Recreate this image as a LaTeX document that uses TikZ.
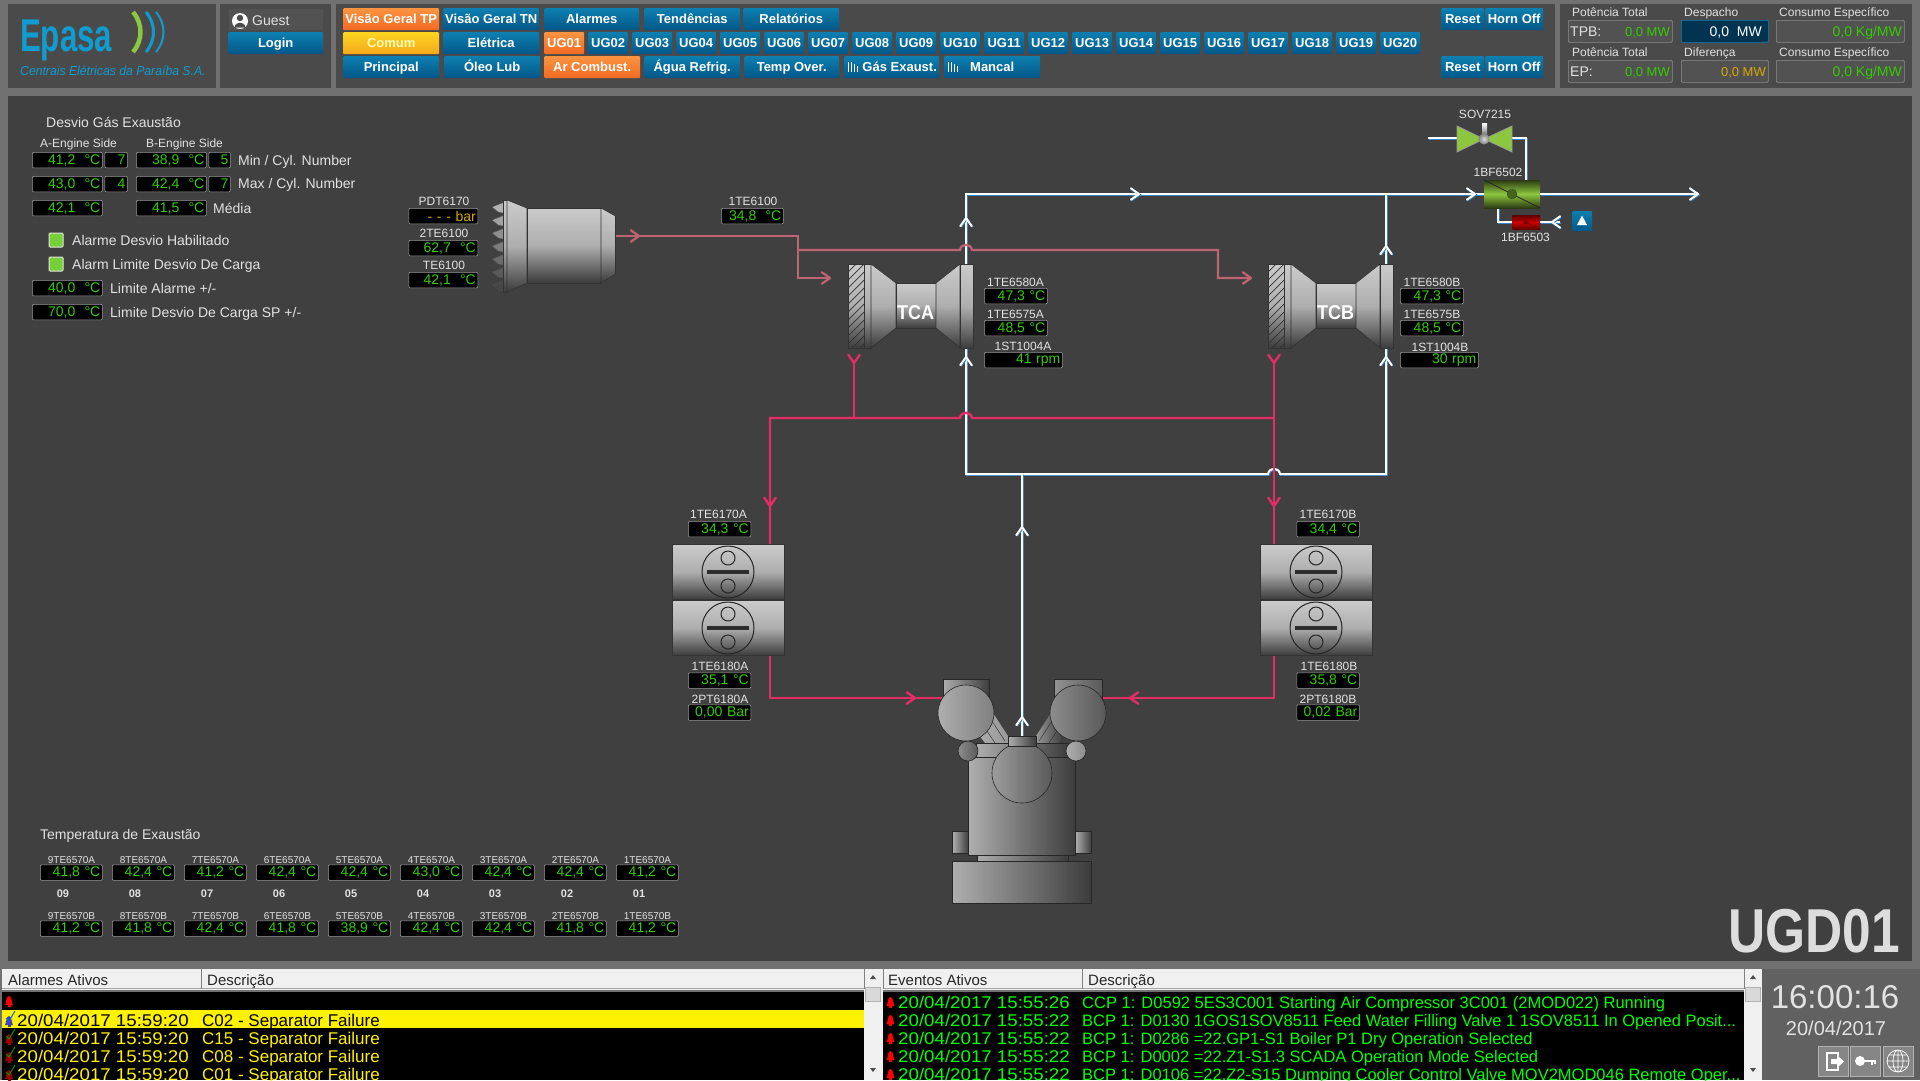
\documentclass[tikz,border=0pt]{standalone}
\usepackage{fontspec}
\setmainfont{Liberation Sans}
\usetikzlibrary{positioning}

\definecolor{outerbg}{HTML}{717171}
\definecolor{panelbg}{HTML}{4A4A4A}
\definecolor{boxbg}{HTML}{525252}
\definecolor{mainbg}{HTML}{404040}
\definecolor{btntop}{HTML}{0D7FB0}
\definecolor{btnbot}{HTML}{035788}
\definecolor{ortop}{HTML}{FA9440}
\definecolor{orbot}{HTML}{F26A24}
\definecolor{yetop}{HTML}{FBD520}
\definecolor{yebot}{HTML}{F5A81C}
\definecolor{lblgray}{HTML}{E2E2E2}
\definecolor{valgreen}{HTML}{33CC00}
\definecolor{valamber}{HTML}{D8A800}
\definecolor{logoblue}{HTML}{109CCF}
\definecolor{leafgreen}{HTML}{8DC63F}
\definecolor{airblue}{HTML}{3A7FC0}
\definecolor{gasred}{HTML}{BE6472}
\definecolor{waterred}{HTML}{E22D66}
\definecolor{machlight}{HTML}{CBCBCB}
\definecolor{machmid}{HTML}{AEAEAE}
\definecolor{machdark}{HTML}{3C3C3C}

\newcommand{\pxfont}[1]{\fontsize{#1}{#1}\selectfont}

\tikzset{
  btn/.style={rectangle,rounded corners=1pt,top color=btntop,bottom color=btnbot,
    text=white,font=\pxfont{13}\bfseries,inner sep=0pt,minimum height=22pt,anchor=north west,
    text height=9.5pt,text depth=0pt},
  btnor/.style={btn,top color=ortop,bottom color=orbot},
  btnye/.style={btn,top color=yetop,bottom color=yebot,text=yellow!30!white},
  readout/.style={rectangle,fill=black,draw=gray!80,line width=.7pt,rounded corners=1pt,
    minimum height=15.5pt,inner ysep=0pt,inner xsep=2pt,align=right,anchor=north west,font=\pxfont{14}},
  lbl/.style={inner sep=0pt,text=lblgray,font=\pxfont{12},text height=9pt,text depth=0pt},
  txt/.style={inner sep=0pt,text=lblgray,font=\pxfont{14},anchor=west,text height=10pt,text depth=0pt},
  infobox/.style={rectangle,fill=boxbg,draw=gray!90,line width=.7pt,rounded corners=1pt,
    inner sep=0pt,minimum height=22pt,anchor=north west},
  lamp/.style={rectangle,fill=leafgreen!85!green,draw=gray!20,line width=1pt,rounded corners=1pt,minimum size=14pt,inner sep=0pt},
  airpipe/.style={draw=white,line width=2pt,preaction={draw=airblue,line width=2pt,transform canvas={shift={(.8pt,-.8pt)}}}},
  gaspipe/.style={draw=gasred,line width=2.2pt},
  waterpipe/.style={draw=waterred,line width=2.4pt},
  tipline/.style={line cap=round,line join=round},
  mach/.style={top color=machlight,bottom color=machdark,middle color=machmid,draw=black!80,line width=.6pt},
  engine/.style={left color=machmid,right color=machdark,draw=black!85,line width=.6pt},
  rowtext/.style={inner sep=0pt,anchor=west,font=\pxfont{17},text height=12pt,text depth=0pt},
  stamp/.style={rowtext,xscale=1.1},
  headtext/.style={inner sep=0pt,anchor=west,text=black!85,font=\pxfont{15},text height=11pt,text depth=0pt},
  iconbtn/.style={rectangle,fill=gray!95,draw=gray!60,inner sep=0pt,minimum width=30pt,minimum height=30pt,anchor=north west},
}

% value box: [colour]{name}{x}{y}{width}{text}
\newcommand{\readout}[6][valgreen]{%
  \pgfmathsetmacro{\rdw}{#5-5}%
  \node[readout,text=#1,text width=\rdw pt] (#2) at (#3,#4) {#6};}
% flow chevron: {point}{angle}{style}
\newcommand{\flowtip}[3]{\draw[#3,tipline] (#1) ++(#2+145:10) -- (#1) -- ++(#2-145:10);}
\newcommand{\turbine}[2]{%
  \begin{scope}[shift={(#1,0)}]
    \shade[mach] (848,264) rectangle (864,348);
    \begin{scope}
      \clip (848,264) rectangle (864,348);
      \foreach \h in {264,272,...,368}
        \draw[black!80,line width=.7pt] (848,\h) -- (868,\h-20);
    \end{scope}
    \draw[black!80,line width=.6pt] (848,264) rectangle (864,348);
    \shade[mach] (864,264) rectangle (871,348);
    \shade[mach] (871,264) -- (896,283) -- (896,328) -- (871,348) -- cycle;
    \shade[mach] (896,283) rectangle (936,328);
    \shade[mach] (936,283) -- (960,264) -- (960,348) -- (936,328) -- cycle;
    \shade[mach] (960,264) rectangle (973,348);
    \node[inner sep=0pt,text=white,font=\pxfont{20}\bfseries,xscale=.9] (#2) at (915.5,312.5) {#2};
  \end{scope}}
\newcommand{\cooler}[2]{%
  \begin{scope}[shift={(#1,#2)}]
    \shade[mach] (-56,-27.5) rectangle (56,27.5);
    \draw[black!70!gray,line width=1pt] (0,0) circle (26);
    \draw[black!70!gray,line width=1pt] (0,-14) circle (7) (0,14) circle (7);
    \fill[black!65!gray] (-21,-2) rectangle (21,2);
  \end{scope}}
\newcommand{\bell}[3]{%
  \begin{scope}[shift={(#1,#2)}]
    \fill[#3] (-4,4) .. controls (-2.5,2) and (-3,-5) .. (0,-5) .. controls (3,-5) and (2.5,2) .. (4,4) -- cycle;
    \fill[#3] (-1.5,4) rectangle (1.5,6);
  \end{scope}}

\begin{document}
\begin{tikzpicture}[x=1pt,y=-1pt]
  \useasboundingbox (0,0) rectangle (1920,1080);
  \fill[outerbg] (0,0) rectangle (1920,1080);
  \fill[panelbg] (8,4) rectangle (216,88);
  \fill[panelbg] (220,4) rectangle (331,88);
  \fill[panelbg] (336,4) rectangle (1555,88);
  \fill[panelbg] (1560,4) rectangle (1912,88);
  \fill[mainbg] (8,96) rectangle (1912,961);

  % logo
  \node[inner sep=0pt,anchor=west,text=logoblue,font=\pxfont{46}\bfseries,xscale=.68] (logotext) at (20,40) {Epasa};
  \node[inner sep=0pt,anchor=west,text=logoblue,font=\pxfont{13}\itshape,xscale=.94] (logosub) at (20,71) {Centrais Elétricas da Paraíba S.A.};
  \draw[leafgreen,line width=4.5pt] (133,12) .. controls (143,24) and (143,40) .. (133,52);
  \draw[logoblue,line width=3pt] (146,12) .. controls (156,24) and (156,40) .. (146,52);
  \draw[logoblue,line width=2pt] (156,12) .. controls (166,24) and (166,40) .. (156,52);

  % login
  \node[infobox,minimum width=95pt,draw=panelbg] (guestbox) at (228,8) {};
  \fill[white] (240,21) circle (8);
  \fill[black!70] (240,18) circle (3.2) (234.5,27.5) .. controls (235,21) and (245,21) .. (245.5,27.5) -- cycle;
  \node[txt] (guest) at (252,20.5) {Guest};
  \node[btn,minimum width=95pt] (login) at (228,32) {Login};

  % buttons
  \node[btnor,minimum width=96pt] (geraltp) at (343,8) {Visão Geral TP};
  \node[btn,minimum width=96pt] (geraltn) at (443,8) {Visão Geral TN};
  \node[btn,minimum width=95pt] (alarmes) at (544,8) {Alarmes};
  \node[btn,minimum width=96pt] (tendencias) at (644,8) {Tendências};
  \node[btn,minimum width=96pt] (relatorios) at (743,8) {Relatórios};
  \node[btnye,minimum width=96pt] (comum) at (343,32) {Comum};
  \node[btn,minimum width=96pt] (eletrica) at (443,32) {Elétrica};
  \node[btnor,minimum width=40pt] (ug01) at (544,32) {UG01};
  \foreach \n [count=\c] in {02,03,04,05,06,07,08,09,10,11,12,13,14,15,16,17,18,19,20} {
    \pgfmathsetmacro{\ugx}{544+44*\c}
    \node[btn,minimum width=40pt] (ug\n) at (\ugx,32) {UG\n};
  }
  \node[btn,minimum width=96pt] (principal) at (343,56) {Principal};
  \node[btn,minimum width=96pt] (oleo) at (444,56) {Óleo Lub};
  \node[btnor,minimum width=96pt] (arcomb) at (544,56) {Ar Combust.};
  \node[btn,minimum width=96pt] (agua) at (644,56) {Água Refrig.};
  \node[btn,minimum width=95pt] (tempover) at (744,56) {Temp Over.};
  \node[btn,minimum width=95pt] (gasexaust) at (844,56) {\hspace*{16pt}Gás Exaust.};
  \node[btn,minimum width=96pt] (mancal) at (944,56) {Mancal};
  \foreach \bx in {0,100} {
    \draw[white,line width=1pt] (848+\bx,62) -- (848+\bx,72) (851+\bx,62) -- (851+\bx,72)
      (854+\bx,64) -- (854+\bx,72) (857.5+\bx,66) -- (857.5+\bx,72);
  }
  \foreach \ry in {8,56} {
    \node[btn,minimum width=43pt] (reset\ry) at (1441,\ry) {Reset};
    \node[btn,minimum width=58pt] (horn\ry) at (1485,\ry) {Horn Off};
  }

  % totals
  \node[lbl,anchor=west] (pot1) at (1572,12) {Potência Total};
  \node[lbl,anchor=west] (desp) at (1684,12) {Despacho};
  \node[lbl,anchor=west] (cons1) at (1779,12) {Consumo Específico};
  \node[infobox,minimum width=104pt] (tpbbox) at (1568,20) {};
  \node[infobox,minimum width=87pt,fill=btnbot!60!black,draw=btntop] (despbox) at (1681,20) {};
  \node[infobox,minimum width=128pt] (cons1box) at (1776,20) {};
  \node[txt] (tpb) at (1570,31) {TPB:};
  \node[txt,anchor=east,text=valgreen,font=\pxfont{13}] (tpbval) at (1670,31) {0,0 MW};
  \node[txt,anchor=east,text=white] (despval) at (1762,31) {0,0\ \ MW};
  \node[txt,anchor=east,text=valgreen] (cons1val) at (1902,31) {0,0 Kg/MW};
  \node[lbl,anchor=west] (pot2) at (1572,52) {Potência Total};
  \node[lbl,anchor=west] (dif) at (1684,52) {Diferença};
  \node[lbl,anchor=west] (cons2) at (1779,52) {Consumo Específico};
  \node[infobox,minimum width=104pt] (epbox) at (1568,60) {};
  \node[infobox,minimum width=87pt] (difbox) at (1681,60) {};
  \node[infobox,minimum width=128pt] (cons2box) at (1776,60) {};
  \node[txt] (ep) at (1570,71) {EP:};
  \node[txt,anchor=east,text=valgreen,font=\pxfont{13}] (epval) at (1670,71) {0,0 MW};
  \node[txt,anchor=east,text=valamber,font=\pxfont{13}] (difval) at (1766,71) {0,0 MW};
  \node[txt,anchor=east,text=valgreen] (cons2val) at (1902,71) {0,0 Kg/MW};

  % deviation block
  \node[txt] (desvio) at (46,122) {Desvio Gás Exaustão};
  \node[lbl,anchor=west] (aside) at (40,143) {A-Engine Side};
  \node[lbl,anchor=west] (bside) at (146,143) {B-Engine Side};
  \readout{amin}{32}{152}{71}{41,2\ \ °C}
  \readout{amincyl}{104.5}{152}{23.5}{7\ }
  \readout{bmin}{136}{152}{71}{38,9\ \ °C}
  \readout{bmincyl}{208.5}{152}{22.5}{5\ }
  \node[txt] (mincyl) at (238,160) {Min / Cyl. Number};
  \readout{amax}{32}{176}{71}{43,0\ \ °C}
  \readout{amaxcyl}{104.5}{176}{23.5}{4\ }
  \readout{bmax}{136}{176}{71}{42,4\ \ °C}
  \readout{bmaxcyl}{208.5}{176}{22.5}{7\ }
  \node[txt] (maxcyl) at (238,183) {Max / Cyl. Number};
  \readout{amed}{32}{200}{71}{42,1\ \ °C}
  \readout{bmed}{136}{200}{71}{41,5\ \ °C}
  \node[txt] (media) at (213,208) {Média};
  \node[lamp] (lampa) at (56,240) {};
  \node[txt] (lampatxt) at (72,240) {Alarme Desvio Habilitado};
  \node[lamp] (lampb) at (56,264) {};
  \node[txt] (lampbtxt) at (72,264) {Alarm Limite Desvio De Carga};
  \readout{limal}{32}{280}{71}{40,0\ \ °C}
  \node[txt] (limaltxt) at (110,288) {Limite Alarme +/-};
  \readout{limsp}{32}{304}{71}{70,0\ \ °C}
  \node[txt] (limsptxt) at (110,312) {Limite Desvio De Carga SP +/-};

  % silencer instruments
  \node[lbl] (pdt) at (444,201) {PDT6170};
  \readout[valamber]{pdtval}{408.5}{208}{70}{- - -\ bar}
  \node[lbl] (te2) at (444,233) {2TE6100};
  \readout{te2val}{408.5}{240}{70}{62,7\ \ °C}
  \node[lbl] (te1) at (444,265) {TE6100};
  \readout{te1val}{408.5}{272}{70}{42,1\ \ °C}
  \node[lbl] (te6100) at (753,201) {1TE6100};
  \readout{te6100val}{721}{208}{63}{34,8\ \ °C}

  % pipes
  \coordinate (silout) at (615,236);
  \coordinate (gasa) at (830,278);
  \coordinate (gasb) at (1251,278);
  \coordinate (airtop) at (966,194);
  \coordinate (airbot) at (966,474);
  \coordinate (airtopb) at (1386,194);
  \coordinate (airbotb) at (1386,474);
  \coordinate (airmid) at (1022,474);
  \coordinate (enginein) at (1022,736);
  \coordinate (filterin) at (1484,194);
  \coordinate (filterout) at (1540,194);
  \coordinate (airend) at (1698,194);
  \coordinate (watera) at (854,363);
  \coordinate (waterb) at (1274,363);
  \coordinate (waterl) at (770,418);
  \coordinate (waterr) at (1274,418);
  \coordinate (coolain) at (770,545);
  \coordinate (coolbin) at (1274,545);
  \coordinate (coolaout) at (770,656);
  \coordinate (coolbout) at (1274,656);
  \coordinate (enga) at (943,698);
  \coordinate (engb) at (1102,698);

  \draw[airpipe] (filterin) -- (airtop) -- (966,264);
  \draw[airpipe] (966,348) -- (airbot) -- (1268,474) .. controls +(1,-7) and +(-1,-7) .. (1280,474) -- (airbotb) -- (1386,348);
  \draw[airpipe] (1386,264) -- (airtopb);
  \draw[airpipe] (airmid) -- (enginein);
  \draw[airpipe] (filterout) -- (airend);
  \flowtip{966,218}{270}{airpipe}
  \flowtip{966,357}{270}{airpipe}
  \flowtip{1386,246}{270}{airpipe}
  \flowtip{1386,357}{270}{airpipe}
  \flowtip{1139,194}{0}{airpipe}
  \flowtip{1475,194}{0}{airpipe}
  \flowtip{1698,194}{0}{airpipe}
  \flowtip{1022,527}{270}{airpipe}
  \flowtip{1022,717}{270}{airpipe}

  \draw[gaspipe] (silout) -- (798,236) -- (798,278) -- (gasa);
  \draw[gaspipe] (798,250) -- (960,250) .. controls +(1,-7) and +(-1,-7) .. (972,250) -- (1218,250) -- (1218,278) -- (gasb);
  \flowtip{639,236}{0}{gaspipe}
  \flowtip{gasa}{0}{gaspipe}
  \flowtip{gasb}{0}{gaspipe}

  \draw[waterpipe] (coolain) -- (waterl) -- (960,418) .. controls +(1,-7) and +(-1,-7) .. (972,418) -- (waterr);
  \draw[waterpipe] (watera) -- (854,418);
  \draw[waterpipe] (waterb) -- (coolbin);
  \draw[waterpipe] (coolaout) -- (770,698) -- (enga);
  \draw[waterpipe] (coolbout) -- (1274,698) -- (engb);
  \flowtip{watera}{90}{waterpipe}
  \flowtip{waterb}{90}{waterpipe}
  \flowtip{770,506}{90}{waterpipe}
  \flowtip{1274,506}{90}{waterpipe}
  \flowtip{915,698}{0}{waterpipe}
  \flowtip{1130,698}{180}{waterpipe}

  % silencer
  \foreach \t in {0,...,6}
    \fill[black!\the\numexpr 30+7*\t\relax,draw=black!70,line width=.4pt] (507,201+13*\t) -- (492,207+13*\t) -- (498,212+13*\t) -- (507,214+13*\t) -- cycle;
  \shade[mach] (503,200) rectangle (507,292);
  \shade[mach] (507,200) -- (527,208) -- (527,283) -- (507,292) -- cycle;
  \shade[mach] (527,208) rectangle (601,283);
  \shade[mach] (601,208) -- (615.5,216) -- (615.5,274) -- (601,283) -- cycle;

  % turbochargers
  \turbine{0}{TCA}
  \turbine{420}{TCB}
  \node[lbl] (tavala) at (1015.5,281.5) {1TE6580A};
  \readout{tavalaval}{984}{288}{64}{47,3 °C}
  \node[lbl] (tbvala) at (1015.5,313.5) {1TE6575A};
  \readout{tbvalaval}{984}{320}{64}{48,5 °C}
  \node[lbl] (stvala) at (1023,345.5) {1ST1004A};
  \readout{stvalaval}{984}{352}{79}{41 rpm}
  \node[lbl] (tavalb) at (1432,281.5) {1TE6580B};
  \readout{tavalbval}{1400}{288}{64}{47,3 °C}
  \node[lbl] (tbvalb) at (1432,313.5) {1TE6575B};
  \readout{tbvalbval}{1400}{320}{64}{48,5 °C}
  \node[lbl] (stvalb) at (1440,346.5) {1ST1004B};
  \readout{stvalbval}{1400}{352}{79}{30 rpm}

  % coolers
  \foreach \cx in {728,1316} {
    \cooler{\cx}{572}
    \cooler{\cx}{628}
  }
  \node[lbl] (coolaintxt) at (718.5,513.5) {1TE6170A};
  \readout{coolainval}{688}{521}{63.5}{34,3 °C}
  \node[lbl] (coolbintxt) at (1328,513.5) {1TE6170B};
  \readout{coolbinval}{1296.5}{521}{63.5}{34,4 °C}
  \node[lbl] (coolaouttxt) at (720,665.5) {1TE6180A};
  \readout{coolaoutval}{688}{672.5}{63.5}{35,1 °C}
  \node[lbl] (prsatxt) at (720,698.5) {2PT6180A};
  \readout{prsaval}{688}{704.5}{63.5}{0,00 Bar}
  \node[lbl] (coolbouttxt) at (1329,665.5) {1TE6180B};
  \readout{coolboutval}{1296.5}{672.5}{63.5}{35,8 °C}
  \node[lbl] (prsbtxt) at (1328,698.5) {2PT6180B};
  \readout{prsbval}{1296.5}{704.5}{63.5}{0,02 Bar}

  % engine
  \shade[engine] (943,679) rectangle (989.5,705);
  \shade[left color=gray!85,right color=black!65] (1054.5,679) rectangle (1102,705);
  \draw[black!85,line width=.6pt] (1054.5,679) rectangle (1102,705);
  \shade[left color=machmid,right color=gray!80] (993,713) -- (1008,736) -- (1008,743) -- (985,743) -- (975,730) -- cycle;
  \shade[left color=gray!80,right color=black!85] (1051,713) -- (1036,736) -- (1036,743) -- (1059,743) -- (1069,730) -- cycle;
  \draw[black!80,line width=.5pt] (990,718) -- (1005,741) (983,725) -- (995,743) (1054,718) -- (1039,741) (1061,725) -- (1049,743);
  \shade[engine] (952.5,831) rectangle (968.5,853);
  \shade[engine] (1075.5,831) rectangle (1091.5,853);
  \shade[engine] (952.5,861) rectangle (1091.5,903);
  \shade[engine] (977,855) rectangle (1068,861);
  \shade[engine] (968.5,757) rectangle (1075.5,855);
  \shade[engine] (976,743) rectangle (1068,757);
  \shade[left color=gray!90,right color=black!65,draw=black!85,line width=.6pt] (968,751) circle (10);
  \shade[left color=machmid,right color=black!45,draw=black!85,line width=.6pt] (1076,751) circle (10);
  \shade[left color=machmid,right color=black!50,draw=black!85,line width=.6pt] (966,713) circle (28);
  \shade[left color=black!45,right color=black!65,draw=black!85,line width=.6pt] (1078,713) circle (28);
  \shade[left color=machmid!90!black,right color=black!65,draw=black!85,line width=.6pt] (1022,773) circle (30);
  \shade[engine] (1008,736) rectangle (1036,746);

  % boost air valves and filters
  \coordinate (sovin) at (1428,138);
  \coordinate (sovl) at (1457,138);
  \coordinate (sovr) at (1512,138);
  \coordinate (filtertop) at (1526,180);
  \coordinate (redin) at (1512,222);
  \coordinate (redout) at (1540,222);
  \coordinate (redend) at (1560,222);
  \coordinate (filterbot) at (1498,208);
  \draw[airpipe] (sovin) -- (sovl);
  \draw[airpipe] (sovr) -- (1526,138) -- (filtertop);
  \draw[airpipe] (filterbot) -- (1498,222) -- (redin);
  \draw[airpipe] (redout) -- (redend);
  \flowtip{1552,222}{180}{airpipe}
  \node[lbl] (sov) at (1485,114) {SOV7215};
  \fill[leafgreen,draw=gray!80,line width=.8pt] (1484,139) -- (1457,126) -- (1457,152) -- cycle;
  \fill[leafgreen,draw=gray!80,line width=.8pt] (1484,139) -- (1512,126) -- (1512,152) -- cycle;
  \shade[top color=white,bottom color=gray] (1482,123) rectangle (1487,134);
  \shade[inner color=gray!30,outer color=gray] (1484,139) circle (5.5);
  \node[lbl] (bf6502) at (1498,171.5) {1BF6502};
  \shade[top color=black!70!leafgreen,bottom color=black!70!leafgreen,middle color=leafgreen] (1484,180) rectangle (1540,208);
  \draw[black!85,line width=.8pt] (1484,180) -- (1540,208);
  \fill[black!50!leafgreen,draw=black!60!leafgreen] (1512,194) circle (5);
  \shade[top color=red!40!black,bottom color=red!40!black,middle color=red!80!black] (1512.5,215.5) rectangle (1540,229);
  \draw[black!70!red,line width=.6pt,dashed] (1512.5,215.5) -- (1540,229);
  \fill[black!50!red] (1526,222) circle (2.5);
  \node[lbl] (bf6503) at (1525.5,236.5) {1BF6503};
  \node[btn,minimum width=20pt,minimum height=20pt] (upbtn) at (1572,211) {};
  \fill[white] (1582,215.5) -- (1577,225) -- (1587,225) -- cycle;

  % exhaust temperatures
  \node[txt] (exaust) at (40,834) {Temperatura de Exaustão};
  \foreach \i/\ai/\ad/\bi/\bd in {9/41/8/41/2,8/42/4/41/8,7/41/2/42/4,6/42/4/41/8,5/42/4/38/9,4/43/0/42/4,3/42/4/42/4,2/42/4/41/8,1/41/2/41/2} {
    \pgfmathsetmacro{\cx}{40+72*(9-\i)}
    \node[inner sep=0pt,text=lblgray,font=\pxfont{10}] (alab\i) at (\cx+31.5,860) {\i TE6570A};
    \readout{aval\i}{\cx}{864.5}{63}{\ai,\ad\ °C}
    \node[inner sep=0pt,text=lblgray,font=\pxfont{11}\bfseries] (cyl\i) at (\cx+23,894) {0\i};
    \node[inner sep=0pt,text=lblgray,font=\pxfont{10}] (blab\i) at (\cx+31.5,916) {\i TE6570B};
    \readout{bval\i}{\cx}{920.5}{63}{\bi,\bd\ °C}
  }
  \node[inner sep=0pt,text=lblgray!95!gray,font=\pxfont{62}\bfseries,xscale=.83] (ugd) at (1814,931) {UGD01};

  % alarm list
  \fill[white!94!black] (2,969) rectangle (1762,990);
  \fill[black] (2,992) rectangle (864,1080);
  \fill[black] (883,992) rectangle (1744,1080);
  \fill[white!94!black] (864,969) rectangle (883,1080);
  \fill[white!94!black] (1744,969) rectangle (1762,1080);
  \draw[gray!70,line width=1pt] (2,988.5) -- (864,988.5) (883,988.5) -- (1744,988.5);
  \draw[gray,line width=1pt] (201,969) -- (201,989) (1082,969) -- (1082,989) (864,969) -- (864,989) (883,969) -- (883,989) (1744,969) -- (1744,989);
  \node[headtext] (alhead) at (8,980) {Alarmes Ativos};
  \node[headtext] (aldesc) at (207,980) {Descrição};
  \node[headtext] (evhead) at (888,980) {Eventos Ativos};
  \node[headtext] (evdesc) at (1088,980) {Descrição};
  \foreach \sx in {873,1753} {
    \fill[gray!30,draw=gray!60,line width=.5pt] (\sx-8,987) rectangle (\sx+7,1001);
    \fill[black!70] (\sx,975) -- (\sx-3,979) -- (\sx+3,979) -- cycle;
    \fill[black!70] (\sx,1072) -- (\sx-3,1068) -- (\sx+3,1068) -- cycle;
  }
  \fill[yellow] (2,1010) rectangle (864,1028);
  \bell{9}{1001}{red}
  \bell{9}{1021}{blue!50!gray}
  \draw[blue!60!cyan,line width=1pt] (6,1018) -- (9,1021) -- (15,1011);
  \node[stamp,text=black] (alt1) at (17,1020) {20/04/2017 15:59:20};
  \node[rowtext,text=black] (ald1) at (202,1020) {C02 - Separator Failure};
  \foreach \ay/\acode [count=\c from 2] in {1038/C15,1056/C08,1074/C01} {
    \bell{9}{\ay+1}{red!60!black}
    \draw[green!60!black,line width=1pt] (6,\ay-2) -- (9,\ay+1) -- (15,\ay-9);
    \node[stamp,text=yellow] (alt\c) at (17,\ay) {20/04/2017 15:59:20};
    \node[rowtext,text=yellow] (ald\c) at (202,\ay) {\acode\ - Separator Failure};
  }

  % event list
  \foreach \ey/\etime/\etext [count=\c] in {
    1002/15:55:26/{CCP 1: D0592 5ES3C001 Starting Air Compressor 3C001 (2MOD022) Running},
    1020/15:55:22/{BCP 1: D0130 1GOS1SOV8511 Feed Water Filling Valve 1 1SOV8511 In Opened Posit...},
    1038/15:55:22/{BCP 1: D0286 =22.GP1-S1 Boiler P1 Dry Operation Selected},
    1056/15:55:22/{BCP 1: D0002 =22.Z1-S1.3 SCADA Operation Mode Selected},
    1074/15:55:22/{BCP 1: D0106 =22.Z2-S15 Dumping Cooler Control Valve MOV2MOD046 Remote Oper...}} {
    \bell{890.5}{\ey}{red}
    \node[stamp,text=green] (evt\c) at (898,\ey) {20/04/2017 \etime};
    \node[rowtext,text=green,font=\pxfont{16.5}] (evd\c) at (1082,\ey) {\etext};
  }

  % clock
  \fill[black!62] (1762,969) rectangle (1920,1080);
  \node[inner sep=0pt,text=lblgray,font=\pxfont{33}] (clock) at (1835,997) {16:00:16};
  \node[inner sep=0pt,text=lblgray,font=\pxfont{20}] (today) at (1836,1028) {20/04/2017};
  \node[iconbtn] (exitbtn) at (1818,1046) {};
  \node[iconbtn] (keybtn) at (1850,1046) {};
  \node[iconbtn] (webbtn) at (1883,1046) {};
  \draw[white,line width=1.6pt] (1838,1056) -- (1838,1053) -- (1827,1053) -- (1827,1070) -- (1838,1070) -- (1838,1067);
  \fill[white] (1831,1059) -- (1837,1059) -- (1837,1055) -- (1844,1061.5) -- (1837,1068) -- (1837,1064) -- (1831,1064) -- cycle;
  \fill[white] (1860,1061) circle (5);
  \draw[white,line width=2pt] (1860,1061) -- (1876,1061) (1872,1061) -- (1872,1065) (1875,1061) -- (1875,1064);
  \draw[white,line width=.7pt] (1898,1061) circle (11) (1898,1061) ellipse (5 and 11) (1887,1061) -- (1909,1061)
    (1888.5,1055) -- (1907.5,1055) (1888.5,1067) -- (1907.5,1067) (1898,1050) -- (1898,1072);
\end{tikzpicture}
\end{document}
